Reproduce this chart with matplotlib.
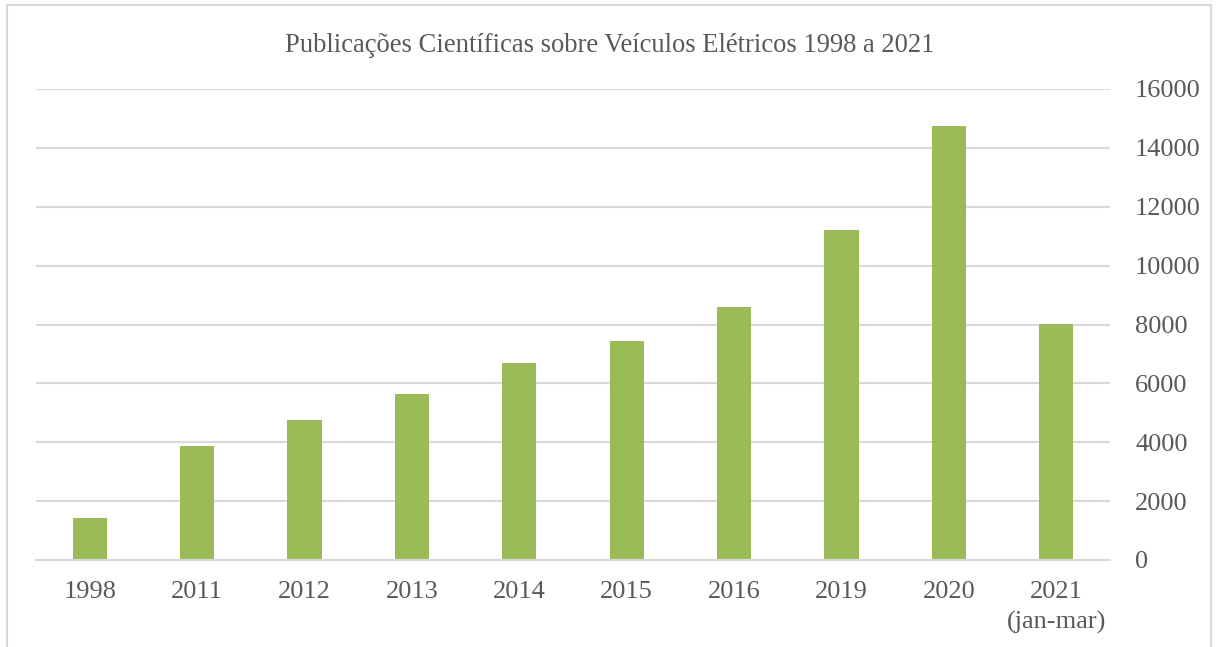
import matplotlib.pyplot as plt
from matplotlib.patches import Rectangle

anos = ['1998', '2011', '2012', '2013', '2014', '2015', '2016', '2019', '2020', '2021\n(jan-mar)']
publicacoes = [1410, 3870, 4740, 5640, 6690, 7440, 8590, 11200, 14750, 8020]
yticks = [0, 2000, 4000, 6000, 8000, 10000, 12000, 14000, 16000]

plt.rcParams['font.family'] = ['Liberation Serif', 'DejaVu Serif']
cinza = '#595959'

fig = plt.figure(figsize=(12.16, 6.47), dpi=100)
W, H = 1216, 647

# moldura do gráfico (parte de baixo sai do recorte)
fig.patches.append(Rectangle((7 / W, -0.05), 1204 / W, 1.05 - 5 / H, transform=fig.transFigure,
                             fill=False, edgecolor='#d9d9d9', linewidth=1.5))

ax = fig.add_axes([36 / W, 1 - 560 / H, 1074 / W, 471 / H])
x = range(len(anos))
ax.bar(x, publicacoes, width=0.32, color='#9bbb59', zorder=3)

ax.set_xlim(-0.5, len(anos) - 0.5)
ax.set_ylim(0, 16000)
ax.set_yticks(yticks)
ax.set_yticklabels([str(v) for v in yticks])
ax.yaxis.tick_right()
ax.grid(axis='y', color='#d9d9d9', linewidth=1.5, zorder=0)
ax.set_xticks(list(x))
ax.set_xticklabels(anos, linespacing=1.45)
ax.tick_params(axis='y', length=0, pad=18, labelsize=19, labelcolor=cinza)
ax.tick_params(axis='x', length=0, pad=15, labelsize=19, labelcolor=cinza)
for lab in ax.get_yticklabels():
    lab.set_horizontalalignment('left')
for s in ['top', 'left', 'right']:
    ax.spines[s].set_visible(False)
ax.spines['bottom'].set_color('#d9d9d9')
ax.spines['bottom'].set_linewidth(1.5)
ax.spines['bottom'].set_zorder(4)

fig.text(610 / W, 1 - 45 / H, 'Publicações Científicas sobre Veículos Elétricos 1998 a 2021',
         ha='center', va='center', fontsize=19.2, color=cinza)

fig.savefig('out.png', dpi=100)
